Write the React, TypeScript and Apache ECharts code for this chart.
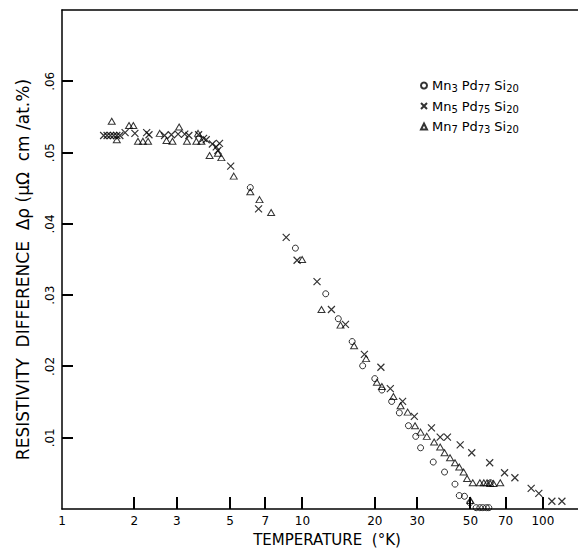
import React, { useEffect, useRef } from "react";
import * as echarts from "echarts";

const seriesNames = ["Mn3Pd77Si20", "Mn5Pd75Si20", "Mn7Pd73Si20"];

const circlePts: [number, number][] = [
  [6.07, 0.0451], [9.35, 0.0366], [12.5, 0.0302], [14.1, 0.0267], [16.1, 0.0235],
  [17.8, 0.0201], [20.0, 0.0183], [21.4, 0.0167], [23.5, 0.0151], [25.3, 0.0135],
  [27.6, 0.0117], [29.6, 0.0102], [31.0, 0.0086], [35.0, 0.0066], [39.0, 0.0052],
  [43.1, 0.0035], [44.9, 0.0019], [47.2, 0.0018], [49.7, 0.0009], [52.8, 0.0002],
  [54.7, 0.0002], [56.3, 0.0002], [58.2, 0.0002], [59.6, 0.0002], [60.5, 0.0037],
];

const crossPts: [number, number][] = [
  [1.49, 0.0524], [1.54, 0.0524], [1.59, 0.0524], [1.64, 0.0524], [1.69, 0.0524],
  [1.74, 0.0524], [1.83, 0.0528], [2.01, 0.0527], [2.25, 0.0528], [2.30, 0.0525],
  [2.67, 0.0524], [2.85, 0.0525], [3.04, 0.0526], [3.24, 0.0526], [3.37, 0.0524],
  [3.70, 0.0525], [3.88, 0.052], [3.98, 0.0518], [4.22, 0.0512], [4.38, 0.0508],
  [4.52, 0.0513], [4.45, 0.0503], [5.03, 0.0481], [6.57, 0.0421], [8.56, 0.0381],
  [9.5, 0.0349], [11.5, 0.0319], [13.2, 0.028], [15.1, 0.0259], [18.1, 0.0217],
  [21.2, 0.0199], [23.2, 0.0169], [26.1, 0.0151], [29.2, 0.013], [34.4, 0.0114],
  [37.4, 0.0101], [40.1, 0.0101], [45.3, 0.009], [50.6, 0.0079], [60.1, 0.0065],
  [69.3, 0.0051], [76.5, 0.0044], [89.4, 0.0029], [96.2, 0.0022], [109, 0.0011],
  [120, 0.0011],
];

const trianglePts: [number, number][] = [
  [1.61, 0.0544], [1.69, 0.0518], [1.9, 0.0538], [1.98, 0.0538], [2.07, 0.0516],
  [2.17, 0.0516], [2.28, 0.0516], [2.55, 0.0527], [2.72, 0.0517], [2.88, 0.0516],
  [3.07, 0.0536], [3.31, 0.0516], [3.62, 0.0516], [3.68, 0.0527], [3.8, 0.0516],
  [4.11, 0.0496], [4.45, 0.0499], [4.6, 0.0493], [5.18, 0.0467], [6.07, 0.0445],
  [6.63, 0.0434], [7.41, 0.0416], [9.97, 0.035], [12.0, 0.028], [14.4, 0.0258],
  [16.4, 0.0229], [18.4, 0.0211], [20.4, 0.0178], [21.4, 0.0172], [23.9, 0.0158],
  [25.6, 0.0145], [27.4, 0.0136], [29.4, 0.0117], [31.0, 0.0108], [32.9, 0.0102],
  [35.3, 0.0094], [37.4, 0.0087], [39.0, 0.0079], [41.1, 0.0072], [43.1, 0.0065],
  [44.9, 0.0059], [46.8, 0.0052], [48.4, 0.0043], [50.0, 0.0012], [51.1, 0.0037],
  [54.7, 0.0037], [56.8, 0.0037], [58.6, 0.0037], [60.4, 0.0036], [62.3, 0.0036],
  [66.5, 0.0037],
];

const xLabelValues = [1, 2, 3, 5, 7, 10, 20, 30, 50, 70, 100];
const xTickValues = [2, 3, 5, 7, 10, 20, 30, 50, 70, 100];
const yLabelValues = [0.01, 0.02, 0.03, 0.04, 0.05, 0.06];

const legendRich: Record<string, string> = {
  Mn3Pd77Si20: "{b|Mn}{s|3} {b|Pd}{s|77} {b|Si}{s|20}",
  Mn5Pd75Si20: "{b|Mn}{s|5} {b|Pd}{s|75} {b|Si}{s|20}",
  Mn7Pd73Si20: "{b|Mn}{s|7} {b|Pd}{s|73} {b|Si}{s|20}",
};

const FONT = "DejaVu Sans";
const TICK_PX = 12;

export default function App() {
  const ref = useRef<HTMLDivElement>(null);
  useEffect(() => {
    if (!ref.current) return;
    const chart = echarts.init(ref.current, undefined, { renderer: "svg" });
    const hollow = { color: "rgba(0,0,0,0)", borderColor: "#000", borderWidth: 1 };
    chart.setOption({
      animation: false,
      backgroundColor: "#fff",
      textStyle: { fontFamily: FONT, color: "#000" },
      grid: { left: 62, right: 0, top: 10, bottom: 35, containLabel: false },
      legend: {
        orient: "vertical",
        left: 415,
        top: 74,
        itemWidth: 6,
        itemHeight: 6,
        itemGap: 6,
        data: seriesNames,
        formatter: (name: string) => legendRich[name],
        textStyle: {
          color: "#000",
          fontFamily: FONT,
          rich: {
            b: { fontSize: 13, lineHeight: 16, verticalAlign: "middle", fontFamily: FONT, color: "#000" },
            s: { fontSize: 10, lineHeight: 8, verticalAlign: "bottom", fontFamily: FONT, color: "#000" },
          },
        },
      },
      xAxis: [
        {
          type: "log",
          logBase: 10,
          min: 1,
          max: 140,
          position: "bottom",
          name: "TEMPERATURE  (°K)",
          nameLocation: "middle",
          nameGap: 20,
          nameTextStyle: { fontSize: 15, color: "#000", fontFamily: FONT, padding: [0, 0, 0, 14] },
          axisLine: { show: true, lineStyle: { color: "#000", width: 1.5 } },
          axisTick: { show: false },
          minorTick: { show: false },
          splitLine: { show: false },
          axisLabel: {
            show: true,
            margin: 6,
            fontSize: 12,
            color: "#000",
            fontFamily: FONT,
            customValues: xLabelValues,
            formatter: (v: number) => String(Math.round(v)),
          },
        },
        {
          type: "value",
          position: "top",
          min: 0,
          max: 1,
          axisLine: { show: true, onZero: false, lineStyle: { color: "#000", width: 1.5 } },
          axisTick: { show: false },
          axisLabel: { show: false },
          splitLine: { show: false },
        },
      ],
      yAxis: {
        type: "value",
        min: 0,
        max: 0.07,
        interval: 0.01,
        name: "RESISTIVITY  DIFFERENCE  Δρ (μΩ  cm /at.%)",
        nameLocation: "middle",
        nameGap: 31,
        nameTextStyle: { fontSize: 17, color: "#000", fontFamily: FONT, padding: [0, 20, 0, 0] },
        axisLine: { show: true, lineStyle: { color: "#000", width: 1.5 } },
        axisTick: { show: false },
        splitLine: { show: false },
        axisLabel: {
          show: true,
          rotate: 90,
          margin: 6,
          fontSize: 12,
          color: "#000",
          fontFamily: FONT,
          customValues: yLabelValues,
          formatter: (v: number) => v.toFixed(2).replace(/^0/, ""),
        },
      },
      series: [
        {
          name: seriesNames[0],
          type: "scatter",
          symbol: "circle",
          symbolSize: 6,
          itemStyle: hollow,
          data: circlePts,
        },
        {
          name: seriesNames[1],
          type: "scatter",
          symbol: "path://M0 0L10 10M10 0L0 10",
          symbolSize: 7,
          itemStyle: { color: "rgba(0,0,0,0)", borderColor: "#000", borderWidth: 1.2 },
          data: crossPts,
        },
        {
          name: seriesNames[2],
          type: "scatter",
          symbol: "triangle",
          symbolSize: [7, 6],
          itemStyle: hollow,
          data: trianglePts,
        },
      ],
    });

    // Tick marks positioned through the chart's own scales
    const elements: any[] = [];
    xTickValues.forEach((v) => {
      const p = chart.convertToPixel({ gridIndex: 0 }, [v, 0]) as number[];
      if (p && isFinite(p[0]) && isFinite(p[1])) {
        elements.push({
          type: "rect",
          silent: true,
          z: 100,
          shape: { x: Math.round(p[0]) - 1, y: p[1] - TICK_PX, width: 2, height: TICK_PX },
          style: { fill: "#000" },
        });
      }
    });
    yLabelValues.forEach((v) => {
      const p = chart.convertToPixel({ gridIndex: 0 }, [1, v]) as number[];
      if (p && isFinite(p[0]) && isFinite(p[1])) {
        elements.push({
          type: "rect",
          silent: true,
          z: 100,
          shape: { x: p[0], y: Math.round(p[1]) - 1, width: TICK_PX - 1, height: 2 },
          style: { fill: "#000" },
        });
      }
    });
    chart.setOption({ graphic: { elements } });
    return () => chart.dispose();
  }, []);
  return (
    <div
      ref={ref}
      style={{ position: "fixed", left: 0, top: 0, width: 578, height: 552, background: "#fff" }}
    />
  );
}
